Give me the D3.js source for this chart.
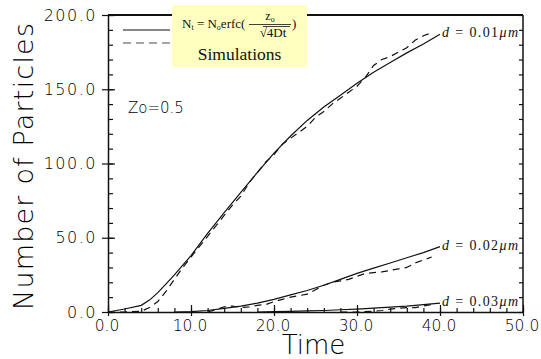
<!DOCTYPE html>
<html>
<head>
<meta charset="utf-8">
<script src="https://cdn.jsdelivr.net/npm/d3@7"></script>
<style>
  body { margin: 0; background: #fff; }
  svg { display: block; }
</style>
</head>
<body>
<div id="container"></div>
<script>
// values
var theoryT1 = [0, 2, 4, 5, 6, 7, 8, 10, 12, 14, 16, 18, 20, 22, 24, 26, 28, 30, 32, 34, 36, 38, 40];
var theoryN1 = [0, 2, 4.5, 8, 13, 19, 25, 38, 53, 67, 80.5, 94, 107, 118.5, 129, 138, 146, 154, 161.5, 168, 174.5, 180.5, 187];
var simT1 = [0, 2, 4, 5, 6, 7, 8, 9, 10, 11, 12, 13, 14, 15, 16, 17, 18, 19, 20, 21, 22, 23, 24, 25, 26, 27, 28, 29, 30, 31, 32, 33, 34, 35, 36, 37, 38, 39];
var simN1 = [0, 0, 0.5, 3, 7, 14, 22, 30, 37, 44, 51, 58, 65, 72, 78, 87, 94, 101, 106, 113, 117, 121, 125, 131, 135, 140, 144, 148, 152, 158, 166, 170, 172, 175, 178, 183, 186, 188];

var theoryT2 = [8, 10, 12, 14, 16, 18, 20, 22, 24, 26, 28, 30, 32, 34, 36, 38, 40];
var theoryN2 = [0, 0.3, 1, 2.5, 4, 6, 8.5, 11.5, 14.5, 18, 22, 26, 29.5, 33, 36.5, 40, 44];
var simT2 = [12, 13, 14, 15, 16, 17, 18, 19, 20, 21, 22, 23, 24, 25, 26, 27, 28, 29, 30, 31, 32, 33, 34, 35, 36, 37, 38, 39];
var simN2 = [0, 1.5, 3.5, 4, 3, 3.5, 4.5, 5, 7, 8.5, 10, 11, 12, 15, 18, 20, 21, 22, 24, 26, 26.5, 27, 28, 29, 30, 33, 35, 37];

var theoryT3 = [18, 20, 22, 24, 26, 28, 30, 32, 34, 36, 38, 40];
var theoryN3 = [0, 0.2, 0.4, 0.7, 1, 1.5, 2, 2.6, 3.3, 4, 5, 6];
var simT3 = [28, 30, 32, 33, 34, 35, 36, 37, 38, 39];
var simN3 = [0, 0, 0.5, 1, 2, 2.5, 3, 3, 4, 5];

var curveLabels = ["0.01", "0.02", "0.03"];
var labelAt = [187, 44, 6];

var xMajor = [0, 10, 20, 30, 40, 50];
var yMajor = [0, 50, 100, 150, 200];

var width = 541,
    height = 359;

var svg = d3.select("#container").append("svg")
    .attr("width", width)
    .attr("height", height);

var x = d3.scaleLinear().domain([0, 50]).range([108, 523]);
var y = d3.scaleLinear().domain([0, 200]).range([312, 15]);

var tickFont = "'DejaVu Sans', sans-serif";
var ink = "#111";

// frame: top and right
svg.append("line")
    .attr("x1", x(0)).attr("x2", x(50))
    .attr("y1", y(200)).attr("y2", y(200))
    .attr("stroke", ink).attr("stroke-width", 2);
svg.append("line")
    .attr("x1", x(50)).attr("x2", x(50))
    .attr("y1", y(200)).attr("y2", y(0))
    .attr("stroke", ink).attr("stroke-width", 1.5);

// right side inner ticks
svg.append("g")
    .attr("transform", "translate(" + x(50) + ",0)")
    .call(d3.axisRight(y).tickValues(d3.range(0, 201, 10)).tickSizeInner(-4).tickSizeOuter(0).tickFormat(""))
    .call(g => g.select(".domain").remove());

// x axis
var gx = svg.append("g").attr("transform", "translate(0," + y(0) + ")");
gx.call(d3.axisBottom(x).tickValues(d3.range(0, 51, 2)).tickSizeInner(-4).tickSizeOuter(0).tickFormat(""));
gx.append("g").call(d3.axisBottom(x).tickValues(xMajor).tickSizeInner(-7).tickSizeOuter(0).tickFormat(""))
    .call(g => g.select(".domain").remove());
gx.append("g").attr("class", "xlab")
    .call(d3.axisBottom(x).tickValues(xMajor).tickSizeInner(4).tickSizeOuter(0).tickPadding(4).tickFormat(d3.format(".1f")))
    .call(g => g.select(".domain").remove());

// y axis
var gy = svg.append("g").attr("transform", "translate(" + x(0) + ",0)");
gy.call(d3.axisLeft(y).tickValues(d3.range(0, 201, 10)).tickSizeInner(-5).tickSizeOuter(0).tickFormat(""));
gy.append("g").call(d3.axisLeft(y).tickValues(yMajor).tickSizeInner(-7).tickSizeOuter(0).tickFormat(""))
    .call(g => g.select(".domain").remove());
gy.append("g").attr("class", "ylab")
    .call(d3.axisLeft(y).tickValues(yMajor).tickSizeInner(6).tickSizeOuter(0).tickPadding(5).tickFormat(d3.format(".1f")))
    .call(g => g.select(".domain").remove());

svg.selectAll(".domain").attr("stroke", ink).attr("stroke-width", 1.5);
svg.selectAll(".tick line").attr("stroke", ink).attr("stroke-width", 1.2);
svg.selectAll(".tick text")
    .attr("font-family", tickFont)
    .attr("font-size", 16)
    .attr("font-weight", 200)
    .attr("fill", "#000");
svg.selectAll(".ylab .tick text").attr("letter-spacing", "1.5px");
svg.selectAll(".xlab .tick text").attr("font-size", 15.5).attr("dx", -1.5);

// axis titles
svg.append("text")
    .attr("transform", "translate(33," + 166.5 + ") rotate(-90)")
    .attr("text-anchor", "middle")
    .attr("font-family", tickFont)
    .attr("font-size", 27)
    .attr("font-weight", 200)
    .attr("textLength", 287)
    .attr("lengthAdjust", "spacing")
    .attr("fill", "#000")
    .text("Number of Particles");

svg.append("text")
    .attr("x", 313.5).attr("y", 354)
    .attr("text-anchor", "middle")
    .attr("font-family", tickFont)
    .attr("font-size", 26)
    .attr("font-weight", 200)
    .attr("fill", "#000")
    .text("Time");

svg.append("text")
    .attr("x", 128).attr("y", 113)
    .attr("font-family", tickFont)
    .attr("font-size", 15)
    .attr("font-weight", 200)
    .attr("fill", "#000")
    .text("Zo=0.5");

// curves
var line = d3.line().x(d => x(d[0])).y(d => y(d[1]));
function pairs(ts, ns) { return ts.map((t, i) => [t, ns[i]]); }

var theory = [pairs(theoryT1, theoryN1), pairs(theoryT2, theoryN2), pairs(theoryT3, theoryN3)];
var sims = [pairs(simT1, simN1), pairs(simT2, simN2), pairs(simT3, simN3)];

svg.selectAll(".theory")
    .data(theory)
    .enter().append("path")
    .attr("class", "theory")
    .attr("d", line)
    .attr("fill", "none")
    .attr("stroke", ink)
    .attr("stroke-width", 1.2);

svg.selectAll(".sim")
    .data(sims)
    .enter().append("path")
    .attr("class", "sim")
    .attr("d", line)
    .attr("fill", "none")
    .attr("stroke", ink)
    .attr("stroke-width", 1.2)
    .attr("stroke-dasharray", "7,5");

// curve labels
var lab = svg.selectAll(".clab")
    .data(curveLabels)
    .enter().append("text")
    .attr("class", "clab")
    .attr("x", x(40) + 2)
    .attr("y", (d, i) => y(labelAt[i]) + 3)
    .attr("font-family", "'Liberation Serif', serif")
    .attr("font-size", 14)
    .attr("fill", ink)
    .attr("textLength", 76)
    .attr("lengthAdjust", "spacing");
lab.append("tspan").attr("font-style", "italic").text("d");
lab.append("tspan").text(d => " = " + d);
lab.append("tspan").attr("font-style", "italic").text("\u03bcm");

// legend
var lg = svg.append("g");
lg.append("line")
    .attr("x1", 123).attr("x2", 170).attr("y1", 30).attr("y2", 30)
    .attr("stroke", ink).attr("stroke-width", 1.2);
lg.append("line")
    .attr("x1", 123).attr("x2", 170).attr("y1", 43).attr("y2", 43)
    .attr("stroke", "#888").attr("stroke-width", 1.5)
    .attr("stroke-dasharray", "8,5");
lg.append("rect")
    .attr("x", 172).attr("y", 5)
    .attr("width", 135).attr("height", 62)
    .attr("fill", "#ffffc0");

var serif = "'Liberation Serif', 'Times New Roman', serif";
var f = lg.append("text")
    .attr("x", 182).attr("y", 28)
    .attr("font-family", serif)
    .attr("font-size", 13)
    .attr("fill", "#111");
f.append("tspan").text("N");
f.append("tspan").attr("font-size", 8).attr("dy", 2).text("t");
f.append("tspan").attr("dy", -2).text(" = N");
f.append("tspan").attr("font-size", 8).attr("dy", 2).text("o");
f.append("tspan").attr("dy", -2).text("erfc(");

lg.append("text")
    .attr("x", 270).attr("y", 20)
    .attr("text-anchor", "middle")
    .attr("font-family", serif)
    .attr("font-size", 12)
    .attr("fill", "#111")
    .call(t => {
        t.append("tspan").text("z");
        t.append("tspan").attr("font-size", 8).attr("dy", 2).text("o");
    });
lg.append("line")
    .attr("x1", 249).attr("x2", 291).attr("y1", 24.5).attr("y2", 24.5)
    .attr("stroke", "#111").attr("stroke-width", 0.8);
lg.append("line")
    .attr("x1", 263).attr("x2", 290).attr("y1", 26.5).attr("y2", 26.5)
    .attr("stroke", "#111").attr("stroke-width", 0.8);
lg.append("text")
    .attr("x", 273).attr("y", 37)
    .attr("text-anchor", "middle")
    .attr("font-family", serif)
    .attr("font-size", 13)
    .attr("fill", "#111")
    .text("\u221a4Dt");
lg.append("text")
    .attr("x", 292).attr("y", 28)
    .attr("font-family", serif)
    .attr("font-size", 13)
    .attr("fill", "#111")
    .text(")");

lg.append("text")
    .attr("x", 239.5).attr("y", 60)
    .attr("text-anchor", "middle")
    .attr("font-family", serif)
    .attr("font-size", 17.5)
    .attr("fill", "#111")
    .text("Simulations");
</script>
</body>
</html>
